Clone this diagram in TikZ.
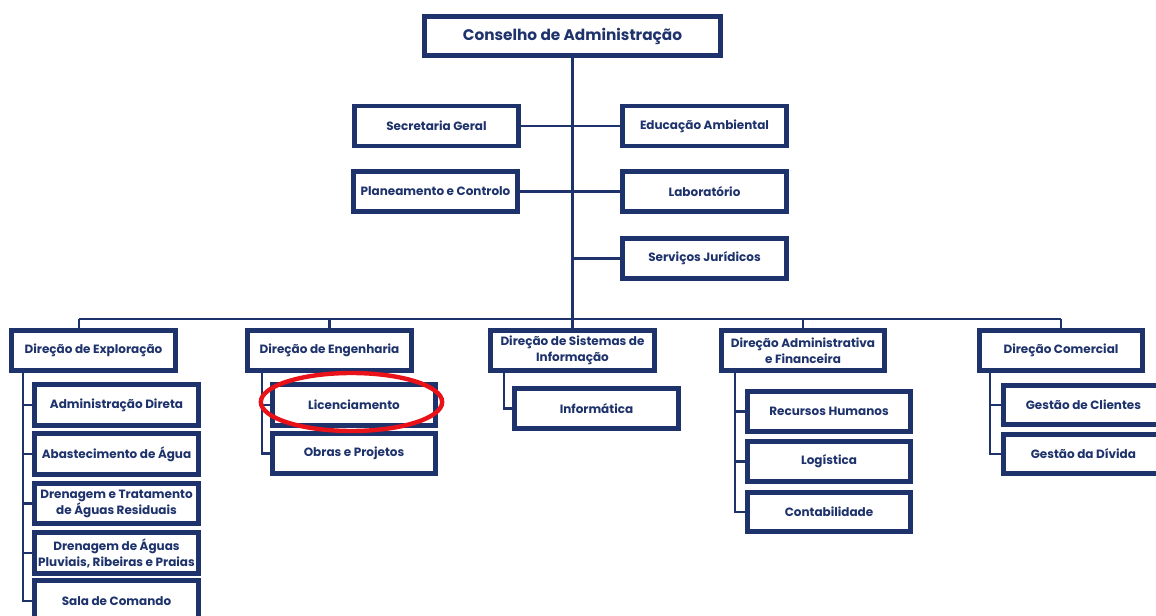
\documentclass[tikz,border=0pt]{standalone}
\usepackage{fontspec}
\setmainfont{Poppins}
\definecolor{navy}{RGB}{30,50,108}
\definecolor{markred}{RGB}{232,18,24}
% \orgbox[options]{name}{left}{top}{right}{bottom}{text}: box on a border line given in pixels
\newcommand\orgbox[7][]{%
  \pgfmathsetmacro\bw{(#5-#3)*0.75}%
  \pgfmathsetmacro\bh{(#6-#4)*0.75}%
  \node[box,#1,minimum width=\bw pt,minimum height=\bh pt] (#2) at ({(#3+#5)/2},{(#4+#6)/2}) {#7};}
\begin{document}
\begin{tikzpicture}[x=0.75pt,y=-0.75pt,
  box/.style={draw=navy, line width=3.1pt, fill=white, inner sep=0pt,
    align=center, text=navy, font=\bfseries\fontsize{9}{12}\selectfont},
  topbox/.style={font=\bfseries\fontsize{11.5}{13}\selectfont},
  link/.style={draw=navy, line width=2pt},
]
\useasboundingbox (0,0) rectangle (1156,616);
\fill[white] (0,0) rectangle (1156,616);

% board and staff units
\orgbox[topbox]{ca}{424.5}{16.5}{720.5}{55.5}{Conselho de Administração}
\orgbox{sg}{354.5}{106}{518.5}{146}{Secretaria Geral}
\orgbox{ea}{622.5}{106}{786.5}{146}{Educação Ambiental}
\orgbox{pc}{353.5}{171.5}{517.5}{211.5}{Planeamento e Controlo}
\orgbox{lab}{622.5}{171.5}{786.5}{211.5}{Laboratório}
\orgbox{sj}{622.5}{238.5}{786.5}{278.5}{Serviços Jurídicos}

% directorates
\orgbox{de}{11.5}{330.5}{175.5}{370.5}{Direção de Exploração}
\orgbox{den}{247.5}{330.5}{411.5}{370.5}{Direção de Engenharia}
\orgbox{dsi}{490.5}{330.5}{654.5}{370.5}{Direção de Sistemas de\\Informação}
\orgbox{daf}{721.5}{330.5}{884.5}{370.5}{Direção Administrativa\\e Financeira}
\orgbox{dc}{979.5}{330.5}{1142.5}{370.5}{Direção Comercial}

% Exploração departments
\orgbox{ad}{34.5}{384.5}{198.5}{425.5}{Administração Direta}
\orgbox{aa}{34.5}{433.5}{198.5}{474.5}{Abastecimento de Água}
\orgbox{dt}{34.5}{483.5}{198.5}{523.5}{Drenagem e Tratamento\\de Águas Residuais}
\orgbox{dp}{34.5}{532.5}{198.5}{573.5}{Drenagem de Águas\\Pluviais, Ribeiras e Praias}
\orgbox{sc}{34.5}{580.5}{198.5}{621.5}{Sala de Comando}

% Engenharia departments
\orgbox{lic}{272.5}{384.5}{435.5}{425.5}{Licenciamento}
\orgbox{op}{272.5}{433.5}{435.5}{473.5}{Obras e Projetos}

% Sistemas de Informação department
\orgbox{inf}{514.5}{388.5}{678.5}{428.5}{Informática}

% Administrativa e Financeira departments
\orgbox{rh}{747.5}{391.5}{910.5}{431.5}{Recursos Humanos}
\orgbox{log}{747.5}{441.5}{910.5}{481.5}{Logística}
\orgbox{cont}{747.5}{492.5}{910.5}{531.5}{Contabilidade}

% Comercial departments
\orgbox{gc}{1003.5}{385.5}{1170}{424.5}{\hspace*{-5pt}Gestão de Clientes}
\orgbox{gd}{1003.5}{434.5}{1170}{473.5}{\hspace*{-5pt}Gestão da Dívida}

% trunk and staff branches
\draw[link] (ca.south) -- (dsi.north);
\draw[link] (sg.east) -- (ea.west);
\draw[link] (pc.east) -- (lab.west);
\draw[link] (sj.west) -- (sj.west -| ca.south);

% directorate bus
\coordinate (busL) at (79,319);
\coordinate (busR) at (dc.north |- busL);
\draw[link] (busL) -- (busR);
\draw[link] (busL) -- (busL |- de.north);
\draw[link] (den.north) -- (den.north |- busL);
\draw[link] (daf.north) -- (daf.north |- busL);
\draw[link] (busR) -- (dc.north);

% department spines
\coordinate (spE) at (23,0);
\draw[link] (spE |- de.south) |- (sc.west);
\foreach \c in {ad,aa,dt,dp} \draw[link] (spE |- \c.west) -- (\c.west);

\coordinate (spN) at (262,0);
\draw[link] (spN |- den.south) |- (op.west);
\draw[link] (spN |- lic.west) -- (lic.west);

\coordinate (spS) at (504,0);
\draw[link] (spS |- dsi.south) |- (inf.west);

\coordinate (spA) at (735,0);
\draw[link] (spA |- daf.south) |- (cont.west);
\foreach \c in {rh,log} \draw[link] (spA |- \c.west) -- (\c.west);

\coordinate (spC) at (990,0);
\draw[link] (spC |- dc.south) |- (gd.west);
\draw[link] (spC |- gc.west) -- (gc.west);

% highlight
\draw[markred, line width=3.3pt] (351.5,402) ellipse [x radius=68pt, y radius=21.75pt];
\end{tikzpicture}
\end{document}
